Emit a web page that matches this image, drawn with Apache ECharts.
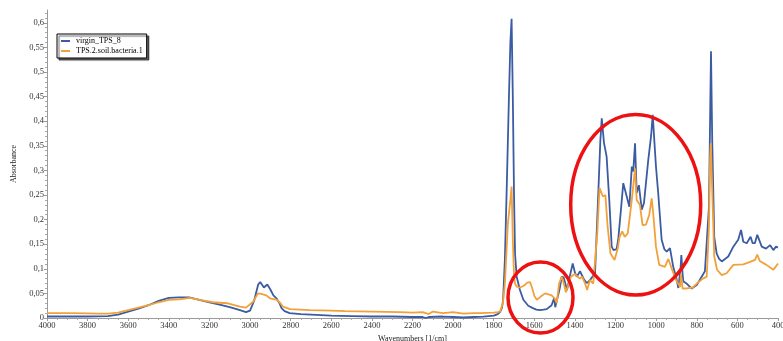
<!DOCTYPE html>
<html>
<head>
<meta charset="utf-8">
<script src="https://cdn.jsdelivr.net/npm/echarts@6/dist/echarts.min.js"></script>
<style>
  html, body { margin: 0; padding: 0; background: #fff; }
  #chart { width: 783px; height: 341px; }
</style>
</head>
<body>
<div id="chart"></div>
<script>
// virgin_TPS_8
const virginWn = [4000, 3900, 3800, 3700, 3650, 3600, 3550, 3500, 3450, 3400, 3350, 3300, 3250, 3200, 3150, 3100, 3050, 3020, 3000, 2980, 2960, 2950, 2940, 2932, 2915, 2900, 2885, 2870, 2855, 2845, 2830, 2805, 2750, 2700, 2600, 2500, 2400, 2300, 2200, 2150, 2135, 2120, 2050, 2000, 1950, 1900, 1850, 1800, 1780, 1769, 1760, 1754, 1745, 1735, 1725, 1718, 1712, 1706, 1700, 1695, 1687, 1671, 1654, 1630, 1607, 1590, 1572, 1555, 1539, 1515, 1503, 1497, 1490, 1475, 1465, 1455, 1449, 1439, 1425, 1411, 1400, 1391, 1375, 1367, 1355, 1342, 1326, 1301, 1285, 1275, 1268, 1257, 1244, 1231, 1219, 1210, 1203, 1195, 1187, 1175, 1162, 1145, 1132, 1120, 1113, 1104, 1096, 1085, 1071, 1060, 1039, 1025, 1017, 1009, 1001, 990, 973, 960, 948, 932, 916, 900, 891, 880, 876, 870, 866, 850, 825, 800, 776, 760, 751, 740, 733, 730, 724, 714, 702, 690, 677, 645, 620, 596, 582, 571, 554, 535, 525, 514, 502, 480, 459, 439, 423, 410, 400];
const virginAbs = [0.003, 0.003, 0.003, 0.004, 0.007, 0.013, 0.019, 0.026, 0.035, 0.041, 0.042, 0.042, 0.037, 0.032, 0.027, 0.022, 0.016, 0.012, 0.015, 0.035, 0.068, 0.073, 0.067, 0.062, 0.068, 0.058, 0.046, 0.040, 0.030, 0.020, 0.014, 0.010, 0.008, 0.007, 0.005, 0.004, 0.003, 0.003, 0.002, 0.002, 0.000, 0.002, 0.003, 0.002, 0.001, 0.002, 0.003, 0.005, 0.008, 0.012, 0.020, 0.035, 0.12, 0.28, 0.45, 0.56, 0.608, 0.45, 0.25, 0.13, 0.084, 0.057, 0.037, 0.025, 0.020, 0.017, 0.016, 0.017, 0.018, 0.026, 0.040, 0.022, 0.021, 0.060, 0.084, 0.082, 0.080, 0.057, 0.085, 0.111, 0.092, 0.084, 0.095, 0.091, 0.078, 0.071, 0.077, 0.091, 0.254, 0.36, 0.406, 0.356, 0.328, 0.24, 0.145, 0.138, 0.135, 0.14, 0.159, 0.213, 0.274, 0.247, 0.226, 0.308, 0.298, 0.355, 0.254, 0.270, 0.220, 0.234, 0.321, 0.37, 0.413, 0.36, 0.308, 0.254, 0.159, 0.14, 0.135, 0.142, 0.104, 0.08, 0.061, 0.10, 0.128, 0.09, 0.074, 0.07, 0.060, 0.067, 0.084, 0.095, 0.098, 0.226, 0.45, 0.542, 0.362, 0.165, 0.131, 0.12, 0.115, 0.125, 0.145, 0.159, 0.179, 0.155, 0.152, 0.165, 0.152, 0.152, 0.169, 0.145, 0.141, 0.148, 0.138, 0.145, 0.143];

// TPS.2.soil.bacteria.1
const soilWn = [4000, 3900, 3800, 3750, 3700, 3650, 3600, 3550, 3500, 3450, 3400, 3350, 3296, 3247, 3183, 3114, 3050, 3020, 2985, 2961, 2945, 2936, 2920, 2902, 2867, 2850, 2838, 2803, 2705, 2600, 2532, 2400, 2262, 2200, 2150, 2120, 2100, 2050, 2000, 1950, 1900, 1870, 1800, 1780, 1769, 1755, 1745, 1730, 1718, 1712, 1706, 1700, 1695, 1687, 1670, 1650, 1635, 1621, 1610, 1600, 1588, 1570, 1547, 1530, 1515, 1500, 1490, 1478, 1465, 1455, 1445, 1439, 1420, 1400, 1390, 1375, 1365, 1350, 1340, 1326, 1310, 1290, 1279, 1270, 1262, 1250, 1240, 1225, 1205, 1190, 1180, 1167, 1155, 1140, 1120, 1104, 1096, 1080, 1067, 1050, 1034, 1022, 1014, 1001, 985, 957, 940, 923, 902, 882, 878, 870, 850, 820, 800, 770, 751, 740, 734, 731, 724, 714, 700, 677, 653, 620, 571, 538, 513, 502, 490, 457, 423, 410, 400];
const soilAbs = [0.010, 0.010, 0.0095, 0.009, 0.009, 0.011, 0.016, 0.021, 0.026, 0.032, 0.037, 0.038, 0.041, 0.037, 0.032, 0.030, 0.023, 0.021, 0.033, 0.050, 0.049, 0.051, 0.046, 0.040, 0.037, 0.030, 0.023, 0.018, 0.016, 0.015, 0.014, 0.013, 0.012, 0.011, 0.012, 0.008, 0.013, 0.010, 0.012, 0.009, 0.010, 0.010, 0.011, 0.012, 0.013, 0.030, 0.07, 0.193, 0.24, 0.267, 0.16, 0.085, 0.07, 0.064, 0.062, 0.066, 0.072, 0.073, 0.06, 0.045, 0.037, 0.043, 0.050, 0.048, 0.046, 0.040, 0.030, 0.070, 0.084, 0.070, 0.052, 0.050, 0.084, 0.09, 0.085, 0.080, 0.084, 0.07, 0.057, 0.077, 0.07, 0.172, 0.264, 0.26, 0.247, 0.25, 0.19, 0.131, 0.118, 0.14, 0.165, 0.176, 0.165, 0.172, 0.24, 0.304, 0.24, 0.23, 0.189, 0.19, 0.21, 0.243, 0.21, 0.145, 0.108, 0.104, 0.12, 0.10, 0.077, 0.063, 0.09, 0.06, 0.06, 0.062, 0.07, 0.08, 0.084, 0.186, 0.33, 0.355, 0.26, 0.125, 0.098, 0.087, 0.091, 0.108, 0.109, 0.114, 0.118, 0.129, 0.116, 0.108, 0.098, 0.105, 0.111];

const yTicks = [0, 0.05, 0.1, 0.15, 0.2, 0.25, 0.3, 0.35, 0.4, 0.45, 0.5, 0.55, 0.6];

const zip = (xs, ys) => xs.map((x, i) => [x, ys[i]]);
const serif = 'Liberation Serif';

const chart = echarts.init(document.getElementById('chart'));
chart.setOption({
  animation: false,
  grid: { left: 47, right: 5, top: 10, bottom: 23, outerBoundsMode: 'none' },
  legend: {
    left: 57, top: 34,
    orient: 'vertical',
    itemGap: 2,
    itemWidth: 9, itemHeight: 2,
    icon: 'rect',
    padding: [3, 4, 3, 4],
    borderColor: '#000', borderWidth: 1,
    backgroundColor: '#fff',
    shadowColor: 'rgba(0,0,0,0.6)', shadowOffsetX: 2, shadowOffsetY: 2, shadowBlur: 1,
    textStyle: { fontFamily: serif, fontSize: 8, color: '#000', padding: [0, 0, 0, 1] }
  },
  xAxis: {
    type: 'value', min: 400, max: 4000, interval: 200, inverse: true,
    name: 'Wavenumbers [1/cm]', nameLocation: 'middle', nameGap: 15,
    nameTextStyle: { fontFamily: serif, fontSize: 8, color: '#222' },
    axisLine: { lineStyle: { color: '#999' } },
    axisTick: { length: 3, lineStyle: { color: '#999' } },
    minorTick: { show: true, splitNumber: 4, length: 2, lineStyle: { color: '#aaa' } },
    axisLabel: { fontFamily: serif, fontSize: 8.5, color: '#333', margin: 3, formatter: v => String(v) },
    splitLine: { show: false }
  },
  yAxis: {
    type: 'value', min: 0, max: 0.626, interval: 0.05,
    name: 'Absorbance', nameLocation: 'middle', nameGap: 29,
    nameTextStyle: { fontFamily: serif, fontSize: 8, color: '#222' },
    axisLine: { show: true, lineStyle: { color: '#999' } },
    axisTick: { show: true, length: 3, customValues: yTicks, lineStyle: { color: '#999' } },
    minorTick: { show: true, splitNumber: 5, length: 2, lineStyle: { color: '#aaa' } },
    axisLabel: {
      fontFamily: serif, fontSize: 8.5, color: '#333', margin: 3,
      customValues: yTicks,
      formatter: v => String(Math.round(v * 100) / 100).replace('.', ',')
    },
    splitLine: { show: false }
  },
  series: [
    { name: 'virgin_TPS_8', data: zip(virginWn, virginAbs), color: '#3b5ca3' },
    { name: 'TPS.2.soil.bacteria.1', data: zip(soilWn, soilAbs), color: '#f2a13a' }
  ].map(s => ({
    ...s,
    type: 'line',
    showSymbol: false,
    lineStyle: { width: 1.8 }
  })),
  graphic: [
    { type: 'ellipse', shape: { cx: 540.5, cy: 297.5, rx: 32.5, ry: 35.5 },
      style: { fill: 'none', stroke: '#ee1111', lineWidth: 3.5 }, z: 100 },
    { type: 'ellipse', shape: { cx: 635.7, cy: 204.7, rx: 65, ry: 90.3 },
      style: { fill: 'none', stroke: '#ee1111', lineWidth: 3.5 }, z: 100 }
  ]
});
</script>
</body>
</html>
